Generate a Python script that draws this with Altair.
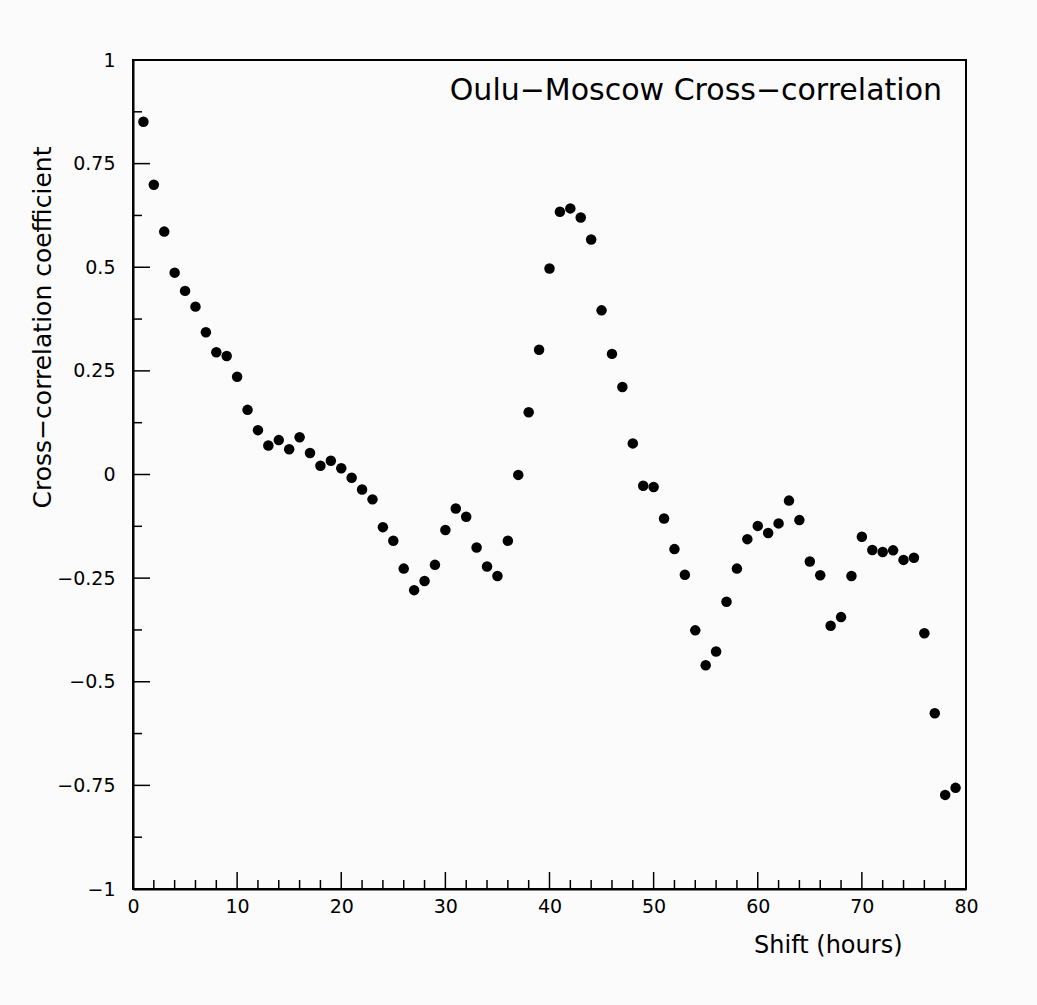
import altair as alt
import pandas as pd

# ---- data ----
shift_hours = list(range(1, 80))
coefficients = [
    0.851, 0.699, 0.586, 0.487, 0.443, 0.405, 0.343, 0.295, 0.286, 0.236,
    0.156, 0.107, 0.070, 0.083, 0.061, 0.090, 0.052, 0.021, 0.033, 0.015,
    -0.008, -0.036, -0.060, -0.127, -0.160, -0.227, -0.279, -0.257, -0.218, -0.134,
    -0.082, -0.102, -0.176, -0.222, -0.245, -0.160, -0.001, 0.150, 0.301, 0.497,
    0.634, 0.642, 0.620, 0.567, 0.396, 0.291, 0.211, 0.075, -0.027, -0.030,
    -0.106, -0.180, -0.242, -0.376, -0.460, -0.427, -0.307, -0.227, -0.156, -0.124,
    -0.141, -0.118, -0.063, -0.110, -0.210, -0.243, -0.365, -0.344, -0.245, -0.150,
    -0.182, -0.187, -0.183, -0.206, -0.201, -0.383, -0.576, -0.773, -0.756,
]
x_major_ticks = [0, 10, 20, 30, 40, 50, 60, 70, 80]
x_minor_ticks = [v for v in range(0, 81, 2) if v % 10 != 0]
y_major_ticks = [-1, -0.75, -0.5, -0.25, 0, 0.25, 0.5, 0.75, 1]
y_minor_ticks = [-0.875, -0.625, -0.375, -0.125, 0.125, 0.375, 0.625, 0.875]
chart_title = "Oulu\u2212Moscow Cross\u2212correlation"
x_title = "Shift (hours)"
y_title = "Cross\u2212correlation coefficient"

W, H = 833, 829
FONT = "DejaVu Sans"

df = pd.DataFrame({"shift": shift_hours, "coef": coefficients})
xscale = alt.Scale(domain=[0, 80], nice=False, zero=False)
yscale = alt.Scale(domain=[-1, 1], nice=False, zero=False)

points = alt.Chart(df).mark_circle(size=110, color="black", opacity=1).encode(
    x=alt.X(
        "shift:Q",
        scale=xscale,
        axis=alt.Axis(
            values=x_major_ticks,
            tickSize=0,
            labelFlush=False,
            labelFontSize=19,
            labelPadding=8,
            labelColor="black",
            labelFont=FONT,
            grid=False,
            domainColor="black",
            domainWidth=2,
            title=x_title,
            titleFont=FONT,
            titleFontSize=24,
            titleFontWeight="normal",
            titleColor="black",
            titleAlign="right",
            titleBaseline="middle",
            titleX=769,
            titleY=56,
        ),
    ),
    y=alt.Y(
        "coef:Q",
        scale=yscale,
        axis=alt.Axis(
            values=y_major_ticks,
            tickSize=0,
            labelFlush=False,
            labelFontSize=19,
            labelPadding=18,
            labelColor="black",
            labelFont=FONT,
            labelExpr="replace(toString(datum.value), '-', '\u2212')",
            grid=False,
            domainColor="black",
            domainWidth=2,
            title=y_title,
            titleFont=FONT,
            titleFontSize=25,
            titleFontWeight="normal",
            titleColor="black",
            titleAngle=270,
            titleAlign="right",
            titleBaseline="middle",
            titleX=-91,
            titleY=86,
        ),
    ),
)

def xticks(vals, length):
    return alt.Chart(pd.DataFrame({"v": vals})).mark_rule(
        color="black", strokeWidth=1.5
    ).encode(
        x=alt.X("v:Q", scale=xscale),
        y=alt.value(H),
        y2=alt.value(H - length),
    )

def yticks(vals, length):
    return alt.Chart(pd.DataFrame({"v": vals})).mark_rule(
        color="black", strokeWidth=1.5
    ).encode(
        y=alt.Y("v:Q", scale=yscale),
        x=alt.value(0),
        x2=alt.value(length),
    )

title_layer = alt.Chart(pd.DataFrame({"t": [chart_title]})).mark_text(
    font=FONT, fontSize=30, color="black", align="right", baseline="middle"
).encode(
    x=alt.value(809),
    y=alt.value(31),
    text="t:N",
)

chart = alt.layer(
    points,
    xticks(x_major_ticks, 17),
    xticks(x_minor_ticks, 9),
    yticks(y_major_ticks, 17),
    yticks(y_minor_ticks, 9),
    title_layer,
).properties(
    width=W,
    height=H,
    background="#fbfbfb",
    autosize=alt.AutoSizeParams(type="none"),
    padding={"left": 133, "top": 60, "right": 71, "bottom": 116},
).configure_view(
    stroke="black", strokeWidth=2, fill="#fbfbfb"
)

chart.save("out.html", embed_options={"renderer": "svg", "actions": False})
